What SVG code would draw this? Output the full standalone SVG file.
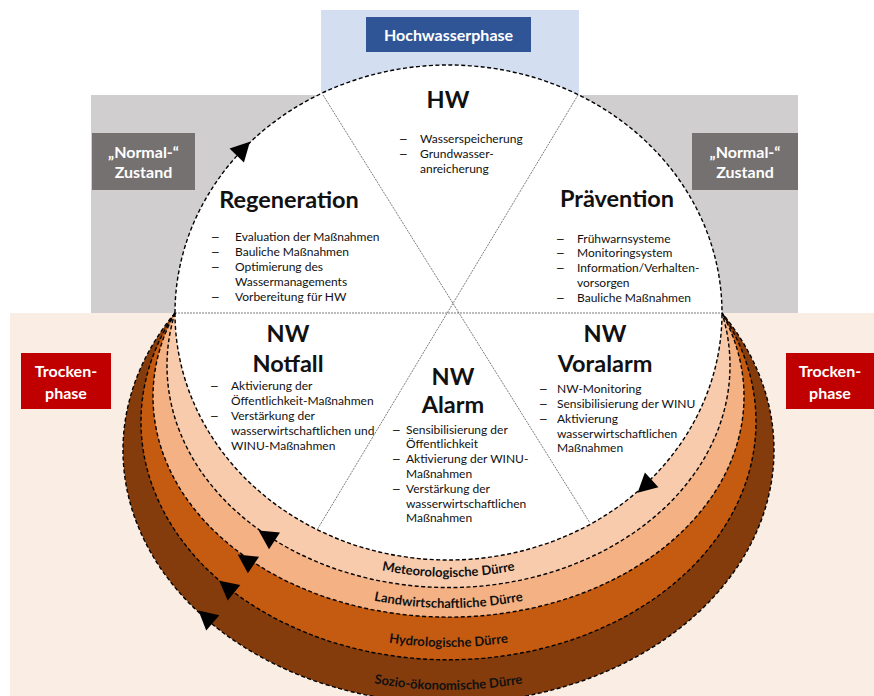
<svg xmlns="http://www.w3.org/2000/svg" xmlns:xlink="http://www.w3.org/1999/xlink" width="874" height="696" viewBox="0 0 874 696">
<defs>
<style>
text{font-family:Lato,"Open Sans","Liberation Sans",sans-serif;fill:#111}
.t{font-weight:bold;font-size:23.5px;text-anchor:middle}
.b{font-size:12px}
.d{font-family:"Liberation Sans",sans-serif;font-size:12px}
.lab{font-weight:bold;font-size:16px;fill:#fff;text-anchor:middle}
.band{font-weight:bold;font-size:13px;text-anchor:middle}
.dash{fill:none;stroke:#000;stroke-width:1.4;stroke-dasharray:4 2.5}
.sec{fill:none;stroke:#444;stroke-width:0.7;stroke-dasharray:2 1}
</style>
<path id="ah" d="M10,0 L-9,-10 L-9,10 Z" fill="#000"/>
<path id="pMet" d="M170.5,345 A278,232 0 0 0 726.5,345"/>
<path id="pLan" d="M157.5,387 A291,221 0 0 0 739.5,387"/>
<path id="pHyd" d="M144.5,414 A304,233 0 0 0 752.5,414"/>
<path id="pSoz" d="M126.5,444 A322,246 0 0 0 770.5,444"/>
</defs>
<g id="background">
<rect x="321" y="10" width="258" height="90" fill="#D3DEF0"/>
<rect x="91" y="95" width="707" height="218" fill="#D0CECE"/>
<rect x="10" y="313" width="864" height="383" fill="#FAEDE4"/>
</g>
<g id="bands">
<path d="M175,313 A325.5,253 0 1 0 722,313 Z" fill="#843C0C"/>
<path d="M175,313 A307.5,238 0 1 0 722,313 Z" fill="#C55A11"/>
<path d="M175,313 A295.5,220.6 0 1 0 722,313 Z" fill="#F4B183"/>
<path d="M175,313 A281.5,222 0 1 0 722,313 Z" fill="#F8CBAD"/>
<path d="M175,313 A273.5,247 0 0 0 722,313 Z" fill="#fff"/>
<path d="M175,313 A273.5,248 0 0 1 722,313 Z" fill="#fff"/>
<text class="band"><textPath xlink:href="#pMet" startOffset="50%">Meteorologische Dürre</textPath></text>
<text class="band"><textPath xlink:href="#pLan" startOffset="50%">Landwirtschaftliche Dürre</textPath></text>
<text class="band"><textPath xlink:href="#pHyd" startOffset="50%">Hydrologische Dürre</textPath></text>
<text class="band"><textPath xlink:href="#pSoz" startOffset="50%">Sozio-ökonomische Dürre</textPath></text>
</g>
<g id="sectors">
<line class="sec" x1="175" y1="313" x2="722" y2="313"/>
<line class="sec" x1="323" y1="95" x2="590" y2="523"/>
<line class="sec" x1="578" y1="95" x2="317" y2="530"/>
</g>
<g id="connectors">
<path class="dash" d="M175,313 A273.5,248 0 0 1 722,313"/>
<path class="dash" d="M175,313 A273.5,247 0 0 0 722,313"/>
<path class="dash" d="M175,313 A281.5,222 0 1 0 722,313"/>
<path class="dash" d="M175,313 A295.5,220.6 0 1 0 722,313"/>
<path class="dash" d="M175,313 A307.5,238 0 1 0 722,313"/>
<path class="dash" d="M175,313 A325.5,253 0 1 0 722,313"/>
<use xlink:href="#ah" transform="translate(243,149) rotate(-46)"/>
<use xlink:href="#ah" transform="translate(645,486) rotate(137.6)"/>
<use xlink:href="#ah" transform="translate(267,536) rotate(-146.6)"/>
<use xlink:href="#ah" transform="translate(246,560) rotate(-146)"/>
<use xlink:href="#ah" transform="translate(227,587) rotate(-141)"/>
<use xlink:href="#ah" transform="translate(206,617) rotate(-139)"/>
</g>
<g id="node-hochwasserphase">
<rect x="366" y="17" width="165" height="35" fill="#2F5597"/>
<text class="lab" x="448.5" y="40.5">Hochwasserphase</text>
</g>
<g id="node-normal-left">
<rect x="92" y="133" width="103" height="57" fill="#767171"/>
<text class="lab" x="143.5" y="157.5">„Normal-“</text>
<text class="lab" x="143.5" y="178">Zustand</text>
</g>
<g id="node-normal-right">
<rect x="692" y="133" width="106" height="57" fill="#767171"/>
<text class="lab" x="745" y="157.5">„Normal-“</text>
<text class="lab" x="745" y="178">Zustand</text>
</g>
<g id="node-trocken-left">
<rect x="21" y="353" width="90" height="56" fill="#C00000"/>
<text class="lab" x="66" y="377">Trocken-</text>
<text class="lab" x="66" y="398.5">phase</text>
</g>
<g id="node-trocken-right">
<rect x="786" y="353" width="88" height="56" fill="#C00000"/>
<text class="lab" x="830" y="377">Trocken-</text>
<text class="lab" x="830" y="398.5">phase</text>
</g>
<g id="node-hw">
<text class="t" x="448" y="108">HW</text>
<text class="d" x="400" y="143">–</text><text class="b" x="420" y="143">Wasserspeicherung</text>
<text class="d" x="400" y="158">–</text><text class="b" x="420" y="158">Grundwasser-</text>
<text class="b" x="420" y="173">anreicherung</text>
</g>
<g id="node-regeneration">
<text class="t" x="289" y="208">Regeneration</text>
<text class="d" x="212" y="241">–</text><text class="b" x="235" y="241">Evaluation der Maßnahmen</text>
<text class="d" x="212" y="256">–</text><text class="b" x="235" y="256">Bauliche Maßnahmen</text>
<text class="d" x="212" y="271">–</text><text class="b" x="235" y="271">Optimierung des</text>
<text class="b" x="235" y="286">Wassermanagements</text>
<text class="d" x="212" y="301">–</text><text class="b" x="235" y="301">Vorbereitung für HW</text>
</g>
<g id="node-praevention">
<text class="t" x="617" y="207">Prävention</text>
<text class="d" x="557" y="243">–</text><text class="b" x="577" y="243">Frühwarnsysteme</text>
<text class="d" x="557" y="257">–</text><text class="b" x="577" y="257">Monitoringsystem</text>
<text class="d" x="557" y="272">–</text><text class="b" x="577" y="272">Information/Verhalten-</text>
<text class="b" x="577" y="287">vorsorgen</text>
<text class="d" x="557" y="302">–</text><text class="b" x="577" y="302">Bauliche Maßnahmen</text>
</g>
<g id="node-nw-notfall">
<text class="t" x="288" y="342">NW</text>
<text class="t" x="288" y="372">Notfall</text>
<text class="d" x="211" y="390">–</text><text class="b" x="231" y="390">Aktivierung der</text>
<text class="b" x="231" y="405">Öffentlichkeit-Maßnahmen</text>
<text class="d" x="211" y="420">–</text><text class="b" x="231" y="420">Verstärkung der</text>
<text class="b" x="231" y="435">wasserwirtschaftlichen und</text>
<text class="b" x="231" y="450">WINU-Maßnahmen</text>
</g>
<g id="node-nw-alarm">
<text class="t" x="453" y="385">NW</text>
<text class="t" x="453" y="413">Alarm</text>
<text class="d" x="393" y="434">–</text><text class="b" x="406" y="434">Sensibilisierung der</text>
<text class="b" x="406" y="448">Öffentlichkeit</text>
<text class="d" x="393" y="463">–</text><text class="b" x="406" y="463">Aktivierung der WINU-</text>
<text class="b" x="406" y="478">Maßnahmen</text>
<text class="d" x="393" y="493">–</text><text class="b" x="406" y="493">Verstärkung der</text>
<text class="b" x="406" y="508">wasserwirtschaftlichen</text>
<text class="b" x="406" y="522">Maßnahmen</text>
</g>
<g id="node-nw-voralarm">
<text class="t" x="605" y="342">NW</text>
<text class="t" x="605" y="372">Voralarm</text>
<text class="d" x="540" y="393">–</text><text class="b" x="557" y="393">NW-Monitoring</text>
<text class="d" x="540" y="408">–</text><text class="b" x="557" y="408">Sensibilisierung der WINU</text>
<text class="d" x="540" y="423">–</text><text class="b" x="557" y="423">Aktivierung</text>
<text class="b" x="557" y="438">wasserwirtschaftlichen</text>
<text class="b" x="557" y="452">Maßnahmen</text>
</g>
</svg>
